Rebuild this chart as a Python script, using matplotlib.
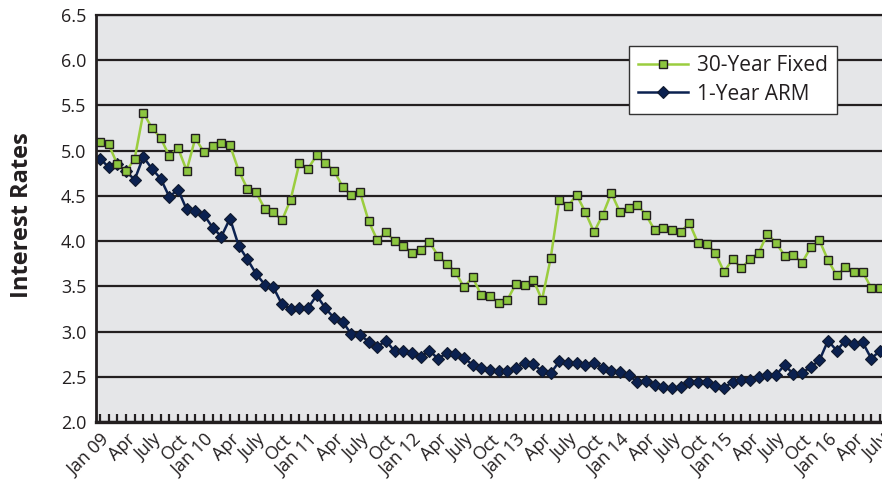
import matplotlib.pyplot as plt

plt.rcParams['font.family'] = ['Open Sans', 'DejaVu Sans']

# monthly rates, Jan 2009 .. Jul 2016
fijo30 = [5.10, 5.07, 4.85, 4.77, 4.91, 5.42, 5.25, 5.14, 4.94, 5.03, 4.78, 5.14,
          4.98, 5.05, 5.08, 5.06, 4.78, 4.58, 4.54, 4.36, 4.32, 4.23, 4.46, 4.86,
          4.80, 4.95, 4.86, 4.78, 4.60, 4.51, 4.54, 4.22, 4.01, 4.10, 4.00, 3.95,
          3.87, 3.90, 3.99, 3.84, 3.75, 3.66, 3.49, 3.60, 3.40, 3.39, 3.32, 3.35,
          3.53, 3.51, 3.57, 3.35, 3.81, 4.46, 4.39, 4.51, 4.32, 4.10, 4.29, 4.53,
          4.32, 4.37, 4.40, 4.29, 4.12, 4.14, 4.12, 4.10, 4.20, 3.98, 3.97, 3.87,
          3.66, 3.80, 3.70, 3.80, 3.87, 4.08, 3.98, 3.84, 3.85, 3.76, 3.93, 4.01,
          3.79, 3.62, 3.71, 3.66, 3.66, 3.48, 3.48]
arm1 = [4.91, 4.82, 4.85, 4.77, 4.68, 4.93, 4.80, 4.69, 4.49, 4.57, 4.35, 4.33,
        4.29, 4.15, 4.05, 4.25, 3.95, 3.80, 3.64, 3.52, 3.49, 3.30, 3.25, 3.26,
        3.26, 3.40, 3.26, 3.15, 3.11, 2.97, 2.96, 2.89, 2.83, 2.90, 2.78, 2.78,
        2.76, 2.72, 2.79, 2.70, 2.76, 2.75, 2.71, 2.63, 2.60, 2.58, 2.56, 2.56,
        2.60, 2.65, 2.64, 2.56, 2.54, 2.67, 2.65, 2.65, 2.63, 2.65, 2.60, 2.56,
        2.55, 2.52, 2.44, 2.45, 2.41, 2.39, 2.38, 2.39, 2.44, 2.44, 2.44, 2.40,
        2.38, 2.44, 2.46, 2.46, 2.50, 2.52, 2.52, 2.63, 2.53, 2.54, 2.61, 2.68,
        2.90, 2.79, 2.90, 2.86, 2.88, 2.70, 2.79]

anios = ['09', '10', '11', '12', '13', '14', '15', '16']
trimestres = ['Apr', 'July', 'Oct']

etiquetas = []
for a in anios:
    etiquetas += ['Jan ' + a, '', '']
    for t in trimestres:
        etiquetas += [t, '', '']
etiquetas = etiquetas[:len(fijo30)]
x = list(range(len(fijo30)))

fig = plt.figure(figsize=(8.82, 4.91), dpi=100)
ax = fig.add_axes([96/882, 69/491, 790/882, 407/491])
ax.set_facecolor('#e5e6e8')

l2, = ax.plot(x, arm1, color='#0b2150', lw=1.8, marker='D', ms=6.5,
              mfc='#0b2150', mec='#111a2e', mew=0.8, label='1-Year ARM')
l1, = ax.plot(x, fijo30, color='#9bcd3f', lw=1.8, marker='s', ms=6,
              mfc='#8cc63f', mec='#231f20', mew=1.0, label='30-Year Fixed')

ax.set_ylim(2.0, 6.5)
ax.set_xlim(-0.46, 90.69)
ax.set_yticks([2.0, 2.5, 3.0, 3.5, 4.0, 4.5, 5.0, 5.5, 6.0, 6.5])
ax.set_yticklabels(['%.1f' % v for v in ax.get_yticks()])
ax.yaxis.grid(True, color='#231f20', lw=1.6)
ax.set_axisbelow(True)

ax.set_xticks(x)
ax.set_xticklabels(etiquetas, rotation=45, ha='right', va='top',
                   rotation_mode='anchor')
ax.tick_params(axis='x', direction='in', length=6, width=1.6,
               color='#231f20', pad=6, labelsize=13, labelcolor='#231f20')
ax.tick_params(axis='y', length=0, pad=7, labelsize=13, labelcolor='#231f20')

for lado in ['left', 'bottom', 'top']:
    ax.spines[lado].set_color('#231f20')
ax.spines['left'].set_linewidth(2)
ax.spines['bottom'].set_linewidth(2.4)
ax.spines['top'].set_linewidth(1.6)
ax.spines['right'].set_visible(False)

fig.text(22/882, 1 - 215/491, 'Interest Rates', rotation=90, ha='center',
         va='center', fontsize=17, fontweight='bold', color='#231f20')

leg = ax.legend(handles=[l1, l2], loc='upper left',
                bbox_to_anchor=(629/882, 1 - 46/491), bbox_transform=fig.transFigure,
                borderaxespad=0, fontsize=15, numpoints=1, handlelength=2.4,
                handletextpad=0.4, labelspacing=0.35, borderpad=0.45,
                fancybox=False, framealpha=1, edgecolor='#333333')
leg.get_frame().set_linewidth(1.0)
for t in leg.get_texts():
    t.set_color('#231f20')

fig.savefig('out.png', dpi=100)
